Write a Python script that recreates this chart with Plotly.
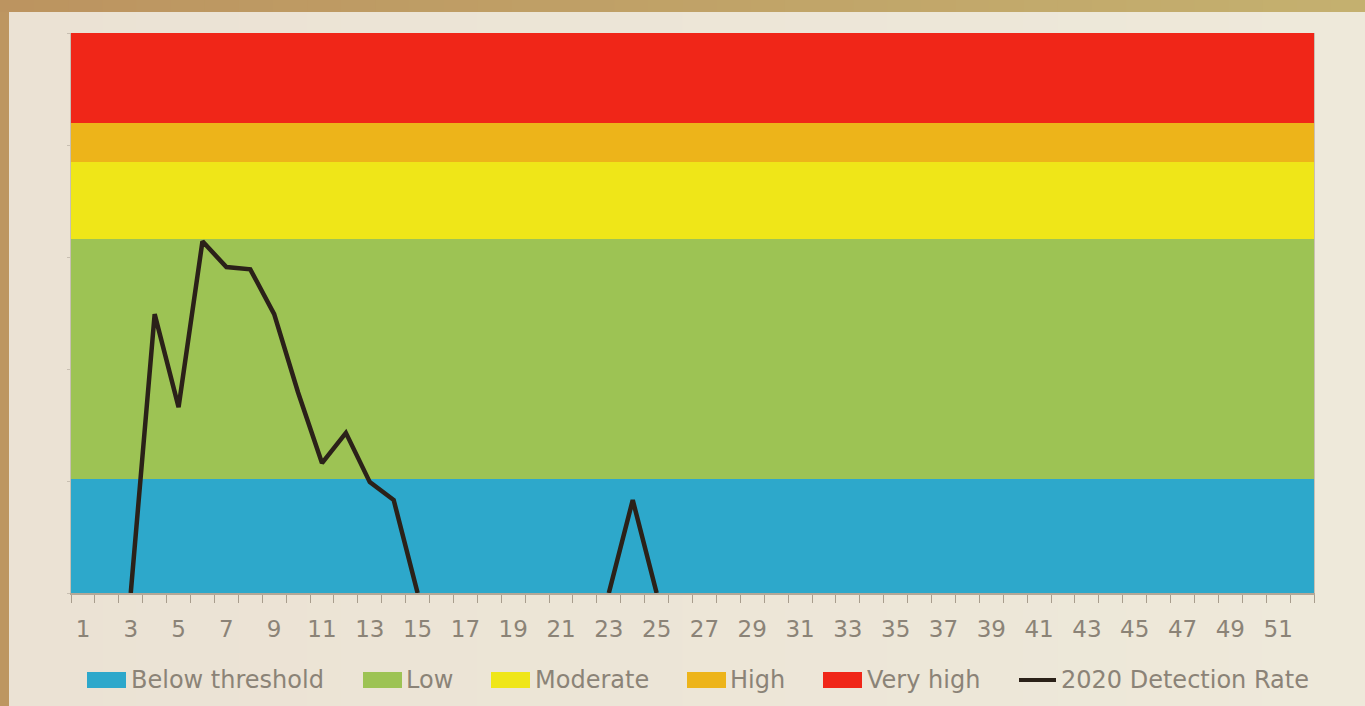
import plotly.graph_objects as go

# ---------------- data ----------------
weeks = list(range(1, 53))
band_names = ["Below threshold", "Low", "Moderate", "High", "Very high"]
band_colors = ["#2da8cb", "#9dc354", "#efe618", "#edb41a", "#f02618"]
# thickness of each band (stacked)
below_threshold = [1.02] * 52
low = [2.14] * 52
moderate = [0.69] * 52
high = [0.35] * 52
very_high = [0.80] * 52
band_values = [below_threshold, low, moderate, high, very_high]

line_name = "2020 Detection Rate"
line_color = "#2b2119"
detection_2020 = [None, None, 0.0, 2.49, 1.66, 3.14, 2.91, 2.89, 2.49, 1.79,
                  1.16, 1.43, 0.99, 0.83, 0.0, None, None, None, None, None,
                  None, None, 0.0, 0.83, 0.0] + [None] * 27
tick_labels = [str(w) for w in range(1, 52, 2)]

# ---------------- layout geometry ----------------
W, H = 1365, 706
L, R, T, B = 71, 51, 33, 113
PW, PH = W - L - R, H - T - B


def px(x):
    return (x - L) / PW


def py(y):
    return (H - B - y) / PH


def mix(c1, c2, t):
    a = [int(c1[i:i + 2], 16) for i in (1, 3, 5)]
    b = [int(c2[i:i + 2], 16) for i in (1, 3, 5)]
    return "#" + "".join(f"{round(a[k] + (b[k] - a[k]) * t):02x}" for k in range(3))


FONT = "DejaVu Sans"
TXT = "#8b8377"

fig = go.Figure()

for name, vals, col in zip(band_names, band_values, band_colors):
    fig.add_trace(go.Bar(x=weeks, y=vals, name=name, marker=dict(color=col, line=dict(width=0)),
                         width=1, showlegend=False, hoverinfo="skip"))

fig.add_trace(go.Scatter(x=weeks, y=detection_2020, mode="lines", name=line_name,
                         line=dict(color=line_color, width=4.5), connectgaps=False, showlegend=False))

# ---------------- background shapes (border + cream panel) ----------------
shapes = [dict(type="rect", xref="paper", yref="paper", layer="below",
               x0=px(0), x1=px(9), y0=py(H), y1=py(0),
               fillcolor="#bd9661", line=dict(width=0))]
N = 40
for i in range(N):
    x0 = i * W / N
    x1 = (i + 1) * W / N + 1
    t = i / (N - 1)
    shapes.append(dict(type="rect", xref="paper", yref="paper", layer="below",
                       x0=px(max(x0, 0)), x1=px(x1), y0=py(12), y1=py(0),
                       fillcolor=mix("#bc9460", "#c4b06f", t), line=dict(width=0)))
    shapes.append(dict(type="rect", xref="paper", yref="paper", layer="below",
                       x0=px(max(x0, 9)), x1=px(x1), y0=py(H), y1=py(12),
                       fillcolor=mix("#ebe2d4", "#eee9da", t), line=dict(width=0)))

# ---------------- manual legend ----------------
annotations = []
legend_swatch_x = [87, 363, 491, 687, 823]
legend_text_x = [130, 405, 534, 729, 866]
LEG_Y = 680
for name, col, sx, tx in zip(band_names, band_colors, legend_swatch_x, legend_text_x):
    shapes.append(dict(type="rect", xref="paper", yref="paper", layer="above",
                       x0=px(sx), x1=px(sx + 39), y0=py(LEG_Y + 8), y1=py(LEG_Y - 8),
                       fillcolor=col, line=dict(width=0)))
    annotations.append(dict(text=name, xref="paper", yref="paper", x=px(tx - 1), y=py(LEG_Y),
                            xanchor="left", yanchor="middle", showarrow=False,
                            font=dict(family=FONT, size=24, color=TXT)))
shapes.append(dict(type="line", xref="paper", yref="paper", layer="above",
                   x0=px(1019), x1=px(1056), y0=py(LEG_Y), y1=py(LEG_Y),
                   line=dict(color=line_color, width=4)))
annotations.append(dict(text=line_name, xref="paper", yref="paper", x=px(1059), y=py(LEG_Y),
                        xanchor="left", yanchor="middle", showarrow=False,
                        font=dict(family=FONT, size=24, color=TXT)))

fig.update_layout(
    width=W, height=H,
    margin=dict(l=L, r=R, t=T, b=B),
    barmode="stack", bargap=0,
    paper_bgcolor="#bd9661", plot_bgcolor="rgba(0,0,0,0)",
    shapes=shapes, annotations=annotations,
    font=dict(family=FONT, color=TXT, size=24),
    showlegend=False,
    xaxis=dict(range=[0.5, 52.5], tickmode="array", tickvals=list(range(1, 52, 2)),
               ticktext=tick_labels, ticks="", showgrid=False, zeroline=False,
               showline=True, linecolor="#b3a898", linewidth=2,
               tickfont=dict(family=FONT, size=23, color=TXT), ticklabelstandoff=14,
               minor=dict(ticks="outside", tick0=0.5, dtick=1, ticklen=8, tickwidth=1,
                          tickcolor="#a89d8d", showgrid=False),
               fixedrange=True),
    yaxis=dict(range=[0, 5], dtick=1, showticklabels=False, ticks="outside", ticklen=3,
               tickcolor="#c8bfb2", showgrid=False, zeroline=False, showline=True,
               linecolor="#c8bfb2", linewidth=1, mirror=True, fixedrange=True),
)

fig.write_html("out.html", config={"displayModeBar": False},
               post_script="document.body.style.margin='0px';document.body.style.overflow='hidden';")
